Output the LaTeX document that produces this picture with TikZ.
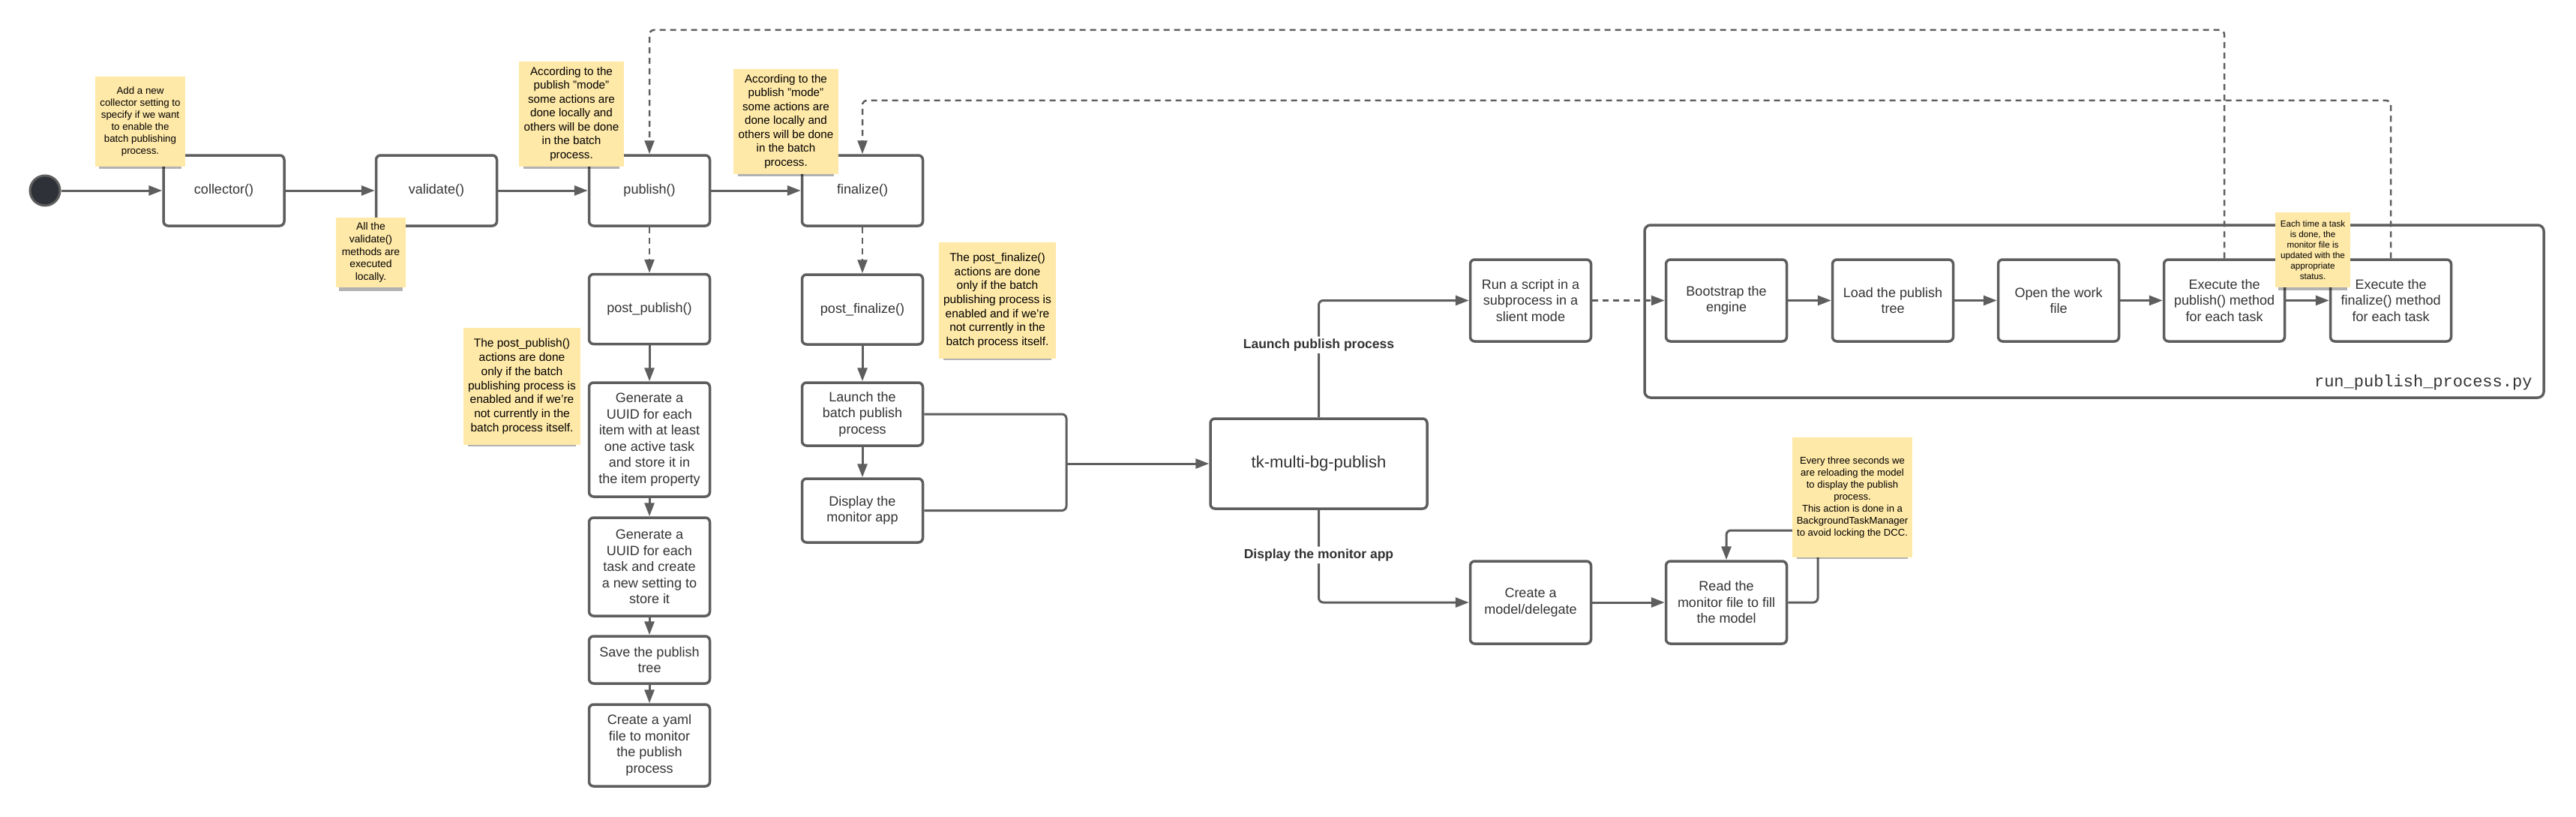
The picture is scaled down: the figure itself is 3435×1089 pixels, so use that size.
\documentclass[tikz,border=0pt]{standalone}
\usepackage{fontspec}
\setmainfont{Liberation Sans}
\setmonofont{Liberation Mono}
\usepackage{tikz}
\usetikzlibrary{arrows.meta,shadows}
\usepackage{xcolor}
\definecolor{linegray}{HTML}{5E5E5E}
\definecolor{txtgray}{HTML}{333333}
\definecolor{noteyellow}{HTML}{FFE9A8}
\definecolor{dotfill}{HTML}{2E3138}

\begin{document}
\begin{tikzpicture}[x=1pt,y=-1pt,>={Triangle[length=18pt,width=13pt]},
  box/.style={draw=linegray,line width=3.5pt,rounded corners=6pt,fill=white,align=center,text=txtgray,inner sep=0pt,minimum width=161pt,font=\fontsize{18}{21.5}\selectfont},
  note/.style={fill=noteyellow,align=center,inner sep=0pt,text=black,drop shadow={shadow xshift=0pt,shadow yshift=-9pt,shadow scale=0.92,opacity=0.3,fill=black}},
  wire/.style={draw=linegray,line width=3pt,rounded corners=6pt},
  flow/.style={wire,->},
  dflow/.style={flow,line width=2.5pt,dash pattern=on 8pt off 6pt},
  lbl/.style={fill=white,text=txtgray,inner sep=3pt,font=\fontsize{17.5}{20}\bfseries\selectfont}]
\useasboundingbox (0,0) rectangle (3435,1089);

\node[circle,fill=dotfill,draw=linegray,line width=3pt,minimum size=40pt,inner sep=0pt] (start) at (60,254) {};
\node[box,minimum height=94pt] (collector) at (298.5,254) {collector()};
\node[box,minimum height=94pt] (validate) at (582,254) {validate()};
\node[box,minimum height=94pt] (publish) at (866,254) {publish()};
\node[box,minimum height=94pt] (finalize) at (1150,254) {finalize()};

\node[box,minimum height=93pt] (postpub) at (866,412) {post\_publish()};
\node[box,minimum height=152pt] (uuidA) at (866,586) {Generate a\\UUID for each\\item with at least\\one active task\\and store it in\\the item property};
\node[box,minimum height=131pt] (uuidB) at (866,755.5) {Generate a\\UUID for each\\task and create\\a new setting to\\store it};
\node[box,minimum height=63pt] (save) at (866,879.5) {Save the publish\\tree};
\node[box,minimum height=109pt] (yaml) at (866,993.5) {Create a yaml\\file to monitor\\the publish\\process};

\node[box,minimum height=93pt] (postfin) at (1150,412.5) {post\_finalize()};
\node[box,minimum height=84pt] (launch) at (1150,552) {Launch the\\batch publish\\process};
\node[box,minimum height=85pt] (display) at (1150,680.5) {Display the\\monitor app};

\node[box,minimum width=289pt,minimum height=120pt,font=\fontsize{22}{26}\selectfont] (tk) at (1758.5,618) {tk-multi-bg-publish};

\node[draw=linegray,line width=3.5pt,rounded corners=8pt,minimum width=1199pt,minimum height=230pt,inner sep=0pt] (runpy) at (2792.5,415) {};
\node[anchor=south east,text=txtgray,font=\ttfamily\fontsize{22}{26}\selectfont] (runlbl) at (3380,524) {run\_publish\_process.py};

\node[box,minimum height=109pt] (run) at (2041,400.5) {Run a script in a\\subprocess in a\\slient mode};
\node[box,minimum height=109pt] (boot) at (2302,400.5) {Bootstrap the\\engine};
\node[box,minimum height=109pt] (load) at (2524,400.5) {Load the publish\\tree};
\node[box,minimum height=109pt] (open) at (2745,400.5) {Open the work\\file};
\node[box,minimum height=109pt] (execpub) at (2966,400.5) {Execute the\\publish() method\\for each task};
\node[box,minimum height=109pt] (execfin) at (3188,400.5) {Execute the\\finalize() method\\for each task};

\node[box,minimum height=110pt] (create) at (2041,803) {Create a\\model/delegate};
\node[box,minimum height=110pt] (read) at (2302,803) {Read the\\monitor file to fill\\the model};

\coordinate (topA) at (866,40);
\coordinate (topB) at (1150,134);
\coordinate (jn) at (1422,618);
\coordinate (loopA) at (2424,707);

\draw[flow] (start) -- (collector);
\draw[flow] (collector) -- (validate);
\draw[flow] (validate) -- (publish);
\draw[flow] (publish) -- (finalize);
\draw[dflow] (publish) -- (postpub);
\draw[flow] (postpub) -- (uuidA);
\draw[flow] (uuidA) -- (uuidB);
\draw[flow] (uuidB) -- (save);
\draw[flow] (save) -- (yaml);
\draw[dflow] (finalize) -- (postfin);
\draw[flow] (postfin) -- (launch);
\draw[flow] (launch) -- (display);
\draw[wire] (launch.east) -| (jn) (display.east) -| (jn);
\draw[flow] (jn) -- (tk.west);
\draw[flow] (tk.north) |- (run.west) node[lbl,pos=0.31] {Launch publish process};
\draw[flow] (tk.south) |- (create.west) node[lbl,pos=0.244] {Display the monitor app};
\draw[dflow] (run) -- (boot);
\draw[flow] (boot) -- (load);
\draw[flow] (load) -- (open);
\draw[flow] (open) -- (execpub);
\draw[flow] (execpub) -- (execfin);
\draw[dflow] (execpub.north) |- (topA) -- (publish.north);
\draw[dflow] (execfin.north) |- (topB) -- (finalize.north);
\draw[flow] (create) -- (read);
\draw[flow] (read.east) -| (loopA) -| (read.north);

\node[note,minimum width=120pt,minimum height=120pt,font=\fontsize{13.3}{16}\selectfont] (ncol) at (187,162) {Add a new\\collector setting to\\specify if we want\\to enable the\\batch publishing\\process.};
\node[note,minimum width=93pt,minimum height=93pt,font=\fontsize{13.9}{16.8}\selectfont] (nval) at (494.5,336.5) {All the\\validate()\\methods are\\executed\\locally.};
\node[note,minimum width=140pt,minimum height=140pt,font=\fontsize{15.2}{18.5}\selectfont] (npub) at (762,152) {According to the\\publish "mode"\\some actions are\\done locally and\\others will be done\\in the batch\\process.};
\node[note,minimum width=140pt,minimum height=140pt,font=\fontsize{15.2}{18.5}\selectfont] (nfin) at (1048,162) {According to the\\publish "mode"\\some actions are\\done locally and\\others will be done\\in the batch\\process.};
\node[note,minimum width=156pt,minimum height=156pt,font=\fontsize{15.5}{18.7}\selectfont] (npostpub) at (696,515) {The post\_publish()\\actions are done\\only if the batch\\publishing process is\\enabled and if we're\\not currently in the\\batch process itself.};
\node[note,minimum width=156pt,minimum height=155pt,font=\fontsize{15.5}{18.7}\selectfont] (npostfin) at (1330,400.5) {The post\_finalize()\\actions are done\\only if the batch\\publishing process is\\enabled and if we're\\not currently in the\\batch process itself.};
\node[note,minimum width=100pt,minimum height=100pt,font=\fontsize{11.7}{14}\selectfont] (ntask) at (3084,333) {Each time a task\\is done, the\\monitor file is\\updated with the\\appropriate\\status.};
\node[note,minimum width=160pt,minimum height=160pt,font=\fontsize{13.1}{16}\selectfont] (nread) at (2470,663) {Every three seconds we\\are reloading the model\\to display the publish\\process.\\This action is done in a\\BackgroundTaskManager\\to avoid locking the DCC.};
\end{tikzpicture}
\end{document}
